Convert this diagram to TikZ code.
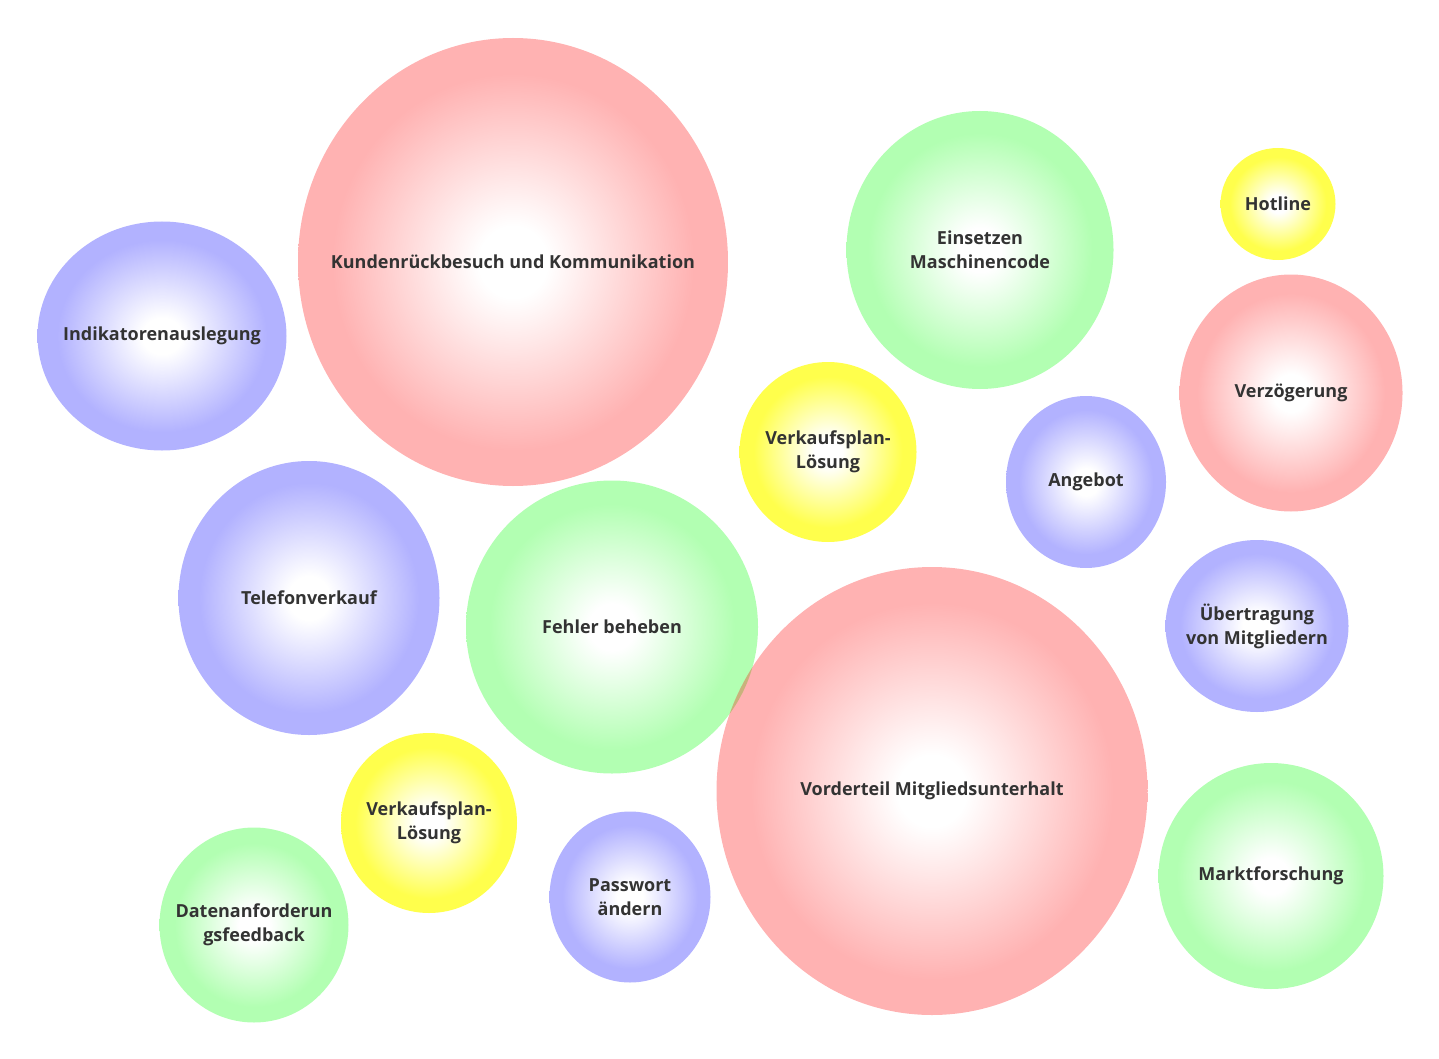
\documentclass[tikz,border=0pt]{standalone}
\usepackage{fontspec}
\setmainfont{Open Sans}
\usetikzlibrary{shapes.geometric}

\pgfdeclareradialshading{redball}{\pgfpoint{0bp}{0bp}}{color(0bp)=(white); color(4bp)=(white); color(21bp)=(red); color(50bp)=(red)}
\pgfdeclareradialshading{greenball}{\pgfpoint{0bp}{0bp}}{color(0bp)=(white); color(4bp)=(white); color(21bp)=(green); color(50bp)=(green)}
\pgfdeclareradialshading{blueball}{\pgfpoint{0bp}{0bp}}{color(0bp)=(white); color(4bp)=(white); color(21bp)=(blue); color(50bp)=(blue)}
\pgfdeclareradialshading{yellowball}{\pgfpoint{0bp}{0bp}}{color(0bp)=(white); color(4bp)=(white); color(21bp)=(yellow); color(50bp)=(yellow)}

\definecolor{labeltext}{HTML}{333333}

\tikzset{
  bubble/.style={ellipse, draw=none, inner sep=0pt, shade},
  bubtext/.style={align=center, text=labeltext, opacity=1, text opacity=1,
    font=\fontsize{18}{24}\selectfont\bfseries},
  wh/.style 2 args={minimum width=#1pt, minimum height=#2pt},
  redbub/.style={bubble, shading=redball, opacity=.3},
  greenbub/.style={bubble, shading=greenball, opacity=.3},
  bluebub/.style={bubble, shading=blueball, opacity=.3},
  yellowbub/.style={bubble, shading=yellowball, opacity=.7}
}

\begin{document}
\begin{tikzpicture}[x=1pt,y=-1pt]
\useasboundingbox (0,0) rectangle (1439,1059);

% large bubbles
\node [redbub,wh={430}{448},label={[bubtext]center:Kundenrückbesuch und Kommunikation}] (kunde) at (513,262) {};
\node [bluebub,wh={249}{229},label={[bubtext]center:Indikatorenauslegung}] (indik) at (162,336) {};
\node [greenbub,wh={267}{278},label={[bubtext]center:Einsetzen\\Maschinencode}] (einsetzen) at (980,250) {};
\node [yellowbub,wh={115}{112},label={[bubtext]center:Hotline}] (hotline) at (1278,204) {};
\node [redbub,wh={223}{237},label={[bubtext]center:Verzögerung}] (verz) at (1291,393) {};
\node [yellowbub,wh={177}{180},label={[bubtext]center:Verkaufsplan-\\Lösung}] (plan1) at (828,452) {};
\node [bluebub,wh={160}{172},label={[bubtext]center:Angebot}] (angebot) at (1086,482) {};
\node [bluebub,wh={261}{274},label={[bubtext]center:Telefonverkauf}] (telefon) at (309,598) {};
\node [greenbub,wh={292}{293},label={[bubtext]center:Fehler beheben}] (fehler) at (612,627) {};
\node [bluebub,wh={183}{172},label={[bubtext]center:Übertragung\\von Mitgliedern}] (uebertr) at (1257,626) {};
\node [redbub,wh={431}{448},label={[bubtext]center:Vorderteil Mitgliedsunterhalt}] (vorder) at (932,791) {};

% small bubbles
\node [yellowbub,wh={176}{180},label={[bubtext]center:Verkaufsplan-\\Lösung}] (plan2) at (429,823) {};
\node [bluebub,wh={161}{171},label={[bubtext]center:Passwort\\ändern}] (passwort) at (630,897) {};
\node [greenbub,wh={189}{195},label={[bubtext]center:Datenanforderun\\gsfeedback}] (daten) at (254,925) {};
\node [greenbub,wh={225}{226},label={[bubtext]center:Marktforschung}] (markt) at (1271,876) {};
\end{tikzpicture}
\end{document}
